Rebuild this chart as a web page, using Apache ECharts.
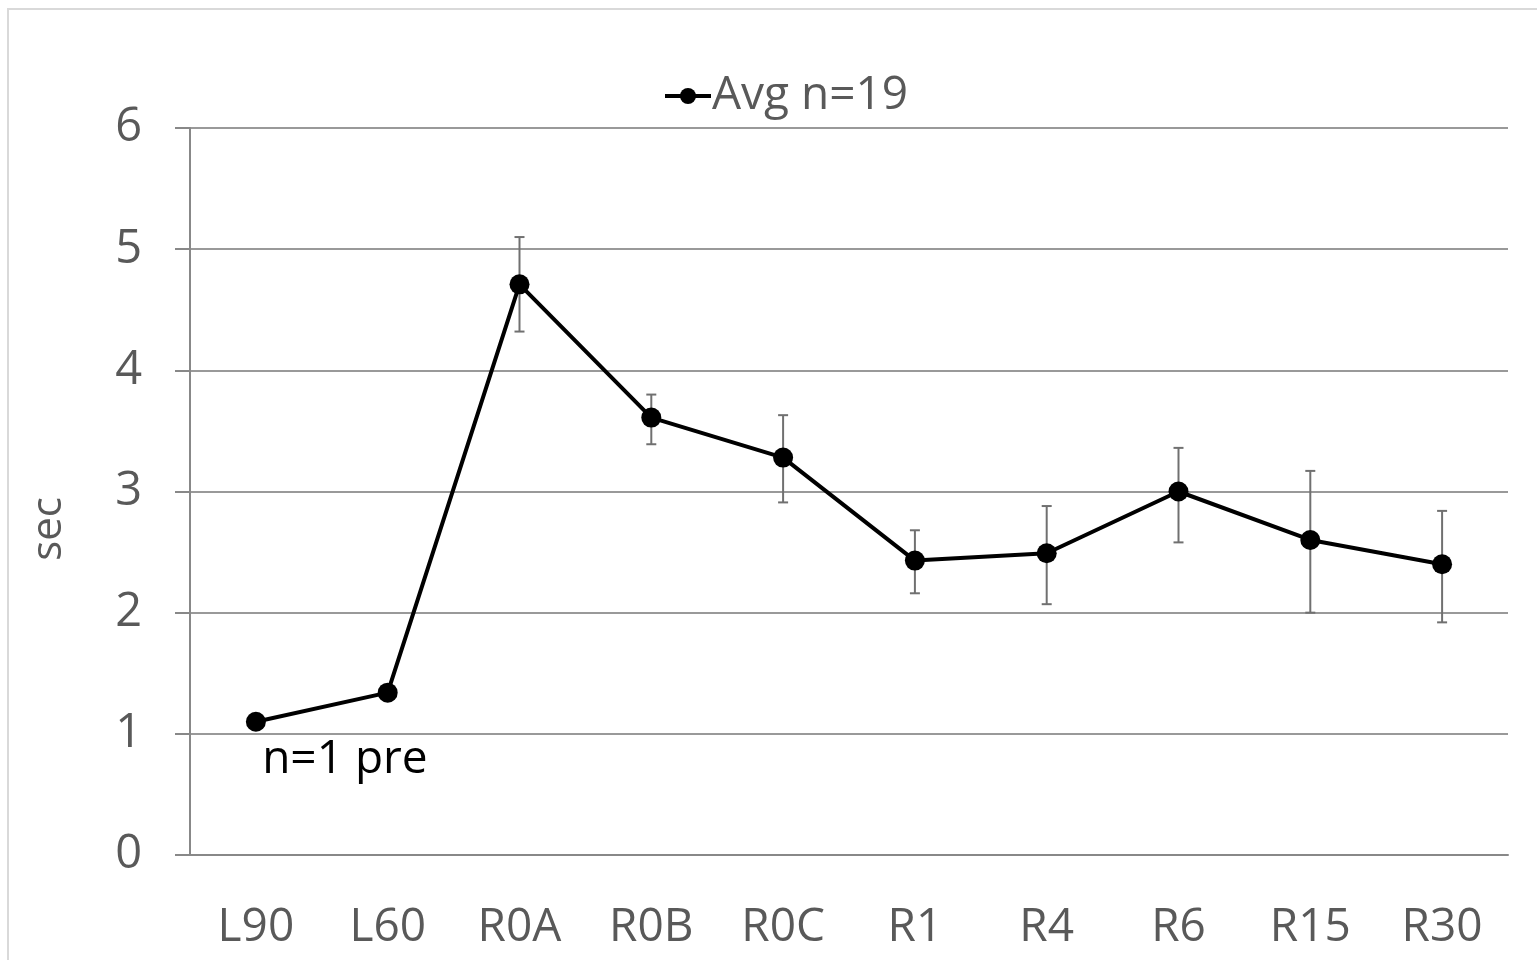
<!DOCTYPE html>
<html>
<head>
<meta charset="utf-8">
<script src="https://cdn.jsdelivr.net/npm/echarts@6/dist/echarts.min.js"></script>
<style>
html,body{margin:0;padding:0;background:#fff;}
#main{width:1537px;height:960px;}
</style>
</head>
<body>
<div id="main"></div>
<script>
const categories = ['L90','L60','R0A','R0B','R0C','R1','R4','R6','R15','R30'];
const avgValues = [1.10, 1.34, 4.71, 3.61, 3.28, 2.43, 2.49, 3.00, 2.60, 2.40];
const errLow  = [null, null, 4.32, 3.39, 2.91, 2.16, 2.07, 2.58, 2.00, 1.92];
const errHigh = [null, null, 5.10, 3.80, 3.63, 2.68, 2.88, 3.36, 3.17, 2.84];
const yTicks = [0,1,2,3,4,5,6];

const FONT = '"Open Sans", sans-serif';
const chart = echarts.init(document.getElementById('main'), null, {renderer:'canvas'});

const errData = categories.map((c,i)=> errLow[i]==null ? null : [i, errLow[i], errHigh[i]]).filter(d=>d);

chart.setOption({
  animation:false,
  backgroundColor:'#fff',
  graphic:[
    {type:'rect', shape:{x:8,y:9,width:1560,height:1000},
     style:{fill:'none', stroke:'#d9d9d9', lineWidth:2}, silent:true, z:-1},
    {type:'text', x:49, y:529, rotation:Math.PI/2,
     style:{text:'sec', fontFamily:FONT, fontSize:42, fill:'#595959', align:'center', verticalAlign:'middle'}}
  ],
  legend:{
    data:[{name:'Avg n=19'}],
    left:658, top:68,
    itemWidth:46, itemHeight:20, itemGap:0,
    lineStyle:{width:4},
    textStyle:{fontFamily:FONT, fontSize:46, color:'#595959', padding:[0,0,0,-4]}
  },
  grid:{left:190, right:29, top:128, bottom:105, containLabel:false},
  xAxis:{
    type:'category', data:categories, boundaryGap:true,
    axisLine:{lineStyle:{color:'#888', width:2}},
    axisTick:{show:false},
    axisLabel:{fontFamily:FONT, fontSize:46, color:'#595959', margin:50}
  },
  yAxis:{
    type:'value', min:yTicks[0], max:yTicks[yTicks.length-1], interval:1,
    axisLine:{show:true, lineStyle:{color:'#888', width:2}},
    axisTick:{show:true, length:15, lineStyle:{color:'#888', width:2}},
    splitLine:{lineStyle:{color:'#999', width:2}},
    axisLabel:{fontFamily:FONT, fontSize:47, color:'#595959', margin:48, padding:[12,0,0,0]}
  },
  series:[
    {
      name:'Avg n=19', type:'line', data:avgValues,
      symbol:'circle', symbolSize:20,
      lineStyle:{color:'#000', width:4},
      itemStyle:{color:'#000'},
      z:5,
      label:{
        show:true,
        formatter:(p)=> p.dataIndex===0 ? 'n=1 pre' : '',
        position:'bottom', offset:[89,0],
        fontFamily:FONT, fontSize:46, color:'#000'
      }
    },
    {
      name:'err', type:'custom', data:errData, z:3,
      renderItem:(params, api)=>{
        const x = api.value(0);
        const lo = api.coord([x, api.value(1)]);
        const hi = api.coord([x, api.value(2)]);
        const cw = 5;
        const st = {stroke:'#707070', lineWidth:2};
        return {type:'group', children:[
          {type:'line', shape:{x1:lo[0],y1:lo[1],x2:hi[0],y2:hi[1]}, style:st},
          {type:'line', shape:{x1:lo[0]-cw,y1:lo[1],x2:lo[0]+cw,y2:lo[1]}, style:st},
          {type:'line', shape:{x1:hi[0]-cw,y1:hi[1],x2:hi[0]+cw,y2:hi[1]}, style:st}
        ]};
      },
      encode:{x:0, y:[1,2]}
    }
  ]
});
</script>
</body>
</html>
